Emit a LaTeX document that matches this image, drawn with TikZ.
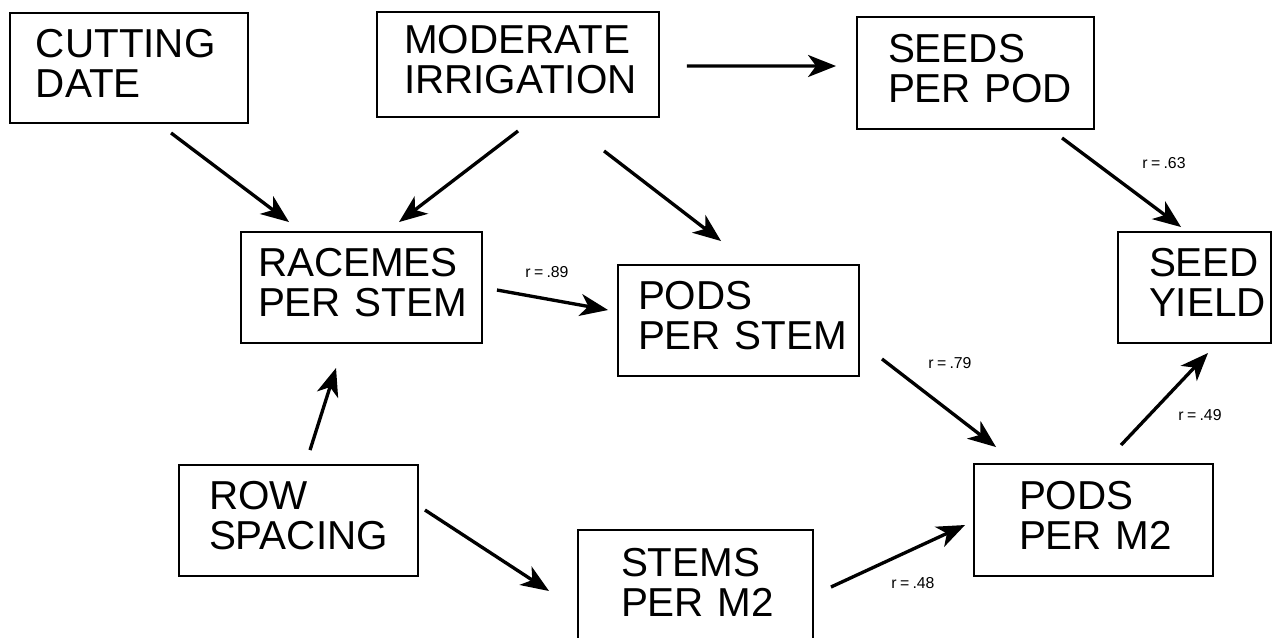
\documentclass[tikz,border=0pt]{standalone}
\usepackage{fontspec}
\setmainfont[WordSpace=0.75]{Liberation Sans}
\usetikzlibrary{arrows.meta}
\newdimen\pxu \pxu=0.02cm
\newcommand\twolines[3]{\hspace*{#1\pxu}#2\\\hspace*{#1\pxu}#3\rule[-10\pxu]{0pt}{0pt}}
\tikzset{
  box/.style={draw, line width=1.1pt, align=left, inner sep=0pt,
    font=\fontsize{23}{22.8}\selectfont},
  arr/.style={line width=1.9pt, -{Stealth[length=0.56cm, width=0.44cm, inset=0.16cm]}},
  rlab/.style={font=\fontsize{9}{10}\selectfont, inner sep=0pt}
}
\begin{document}
\begin{tikzpicture}[x=0.02cm, y=-0.02cm]
\useasboundingbox (0,0) rectangle (1273,637);
% boxes
\node[box, minimum height=110\pxu, text width=238\pxu] (cut) at (129,68) {\twolines{26}{CUTTING}{DATE}};
\node[box, minimum height=105\pxu, text width=282\pxu] (mod) at (518,64.5) {\twolines{27}{MODERATE}{IRRIGATION}};
\node[box, minimum height=112\pxu, text width=237\pxu] (seeds) at (975.5,73) {\twolines{31}{SEEDS}{PER POD}};
\node[box, minimum height=111\pxu, text width=153\pxu] (yield) at (1194.5,287.5) {\twolines{31}{SEED}{YIELD}};
\node[box, minimum height=111\pxu, text width=241\pxu] (rac) at (361.5,287.5) {\twolines{17}{RACEMES}{PER STEM}};
\node[box, minimum height=111\pxu, text width=241\pxu] (pst) at (738.5,320.5) {\twolines{20}{PODS}{PER STEM}};
\node[box, minimum height=111\pxu, text width=239\pxu] (row) at (298.5,520.5) {\twolines{30}{ROW}{SPACING}};
\node[box, minimum height=115\pxu, text width=235\pxu] (stm) at (695.5,587.5) {\twolines{43}{STEMS}{PER M2}};
\node[box, minimum height=112\pxu, text width=239\pxu] (pm2) at (1093.5,520) {\twolines{45}{PODS}{PER M2}};
% arrows
\draw[arr] ([shift={(162,9)}]cut.south west) -- ([shift={(49,-9)}]rac.north west);
\draw[arr] ([shift={(142,13)}]mod.south west) -- ([shift={(159,-9)}]rac.north west);
\draw[arr] ([shift={(228,33)}]mod.south west) -- ([shift={(104,-23)}]pst.north west);
\draw[arr] ([shift={(27,1.5)}]mod.east) -- ([shift={(-20,-7)}]seeds.west);
\draw[arr] ([shift={(206,8)}]seeds.south west) -- ([shift={(64,-4)}]yield.north west);
\draw[arr] ([shift={(14,2.5)}]rac.east) -- ([shift={(-9,-10.5)}]pst.west);
\draw[arr] ([shift={(22,-18)}]pst.south east) -- ([shift={(23,-16)}]pm2.north west);
\draw[arr] ([shift={(148,-18)}]pm2.north west) -- ([shift={(91,9)}]yield.south west);
\draw[arr] ([shift={(132,-14)}]row.north west) -- ([shift={(96,24)}]rac.south west);
\draw[arr] ([shift={(6,-10.5)}]row.east) -- ([shift={(-28,3.5)}]stm.west);
\draw[arr] ([shift={(17,-0.5)}]stm.east) -- ([shift={(-8,5)}]pm2.west);
% labels
\node[rlab] (l89) at (547,272) {r = .89};
\node[rlab] (l63) at (1164,163) {r = .63};
\node[rlab] (l79) at (950,363) {r = .79};
\node[rlab] (l49) at (1200,415) {r = .49};
\node[rlab] (l48) at (913,583) {r = .48};
\end{tikzpicture}
\end{document}
